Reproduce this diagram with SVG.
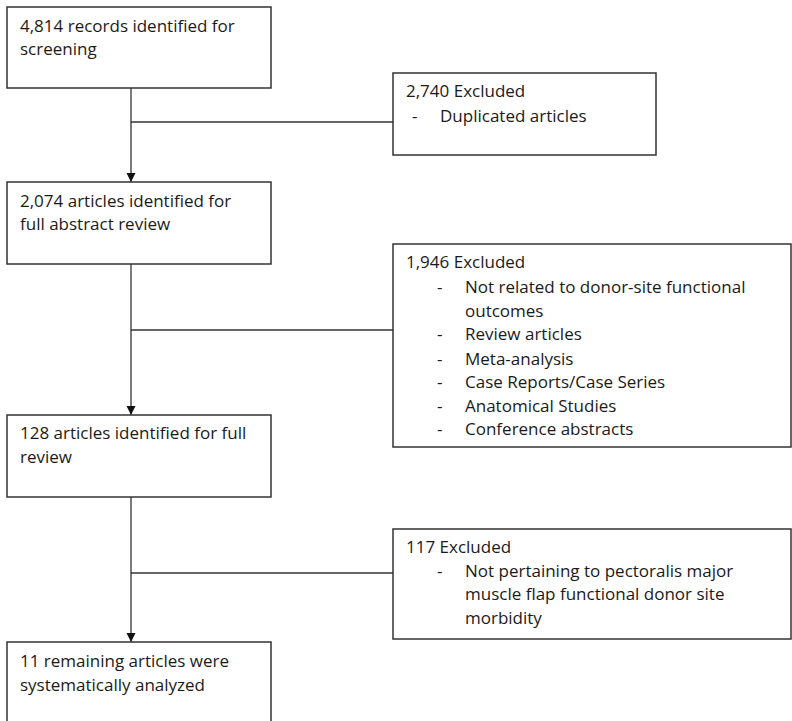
<svg xmlns="http://www.w3.org/2000/svg" width="792" height="721" viewBox="0 0 792 721">
<style>
.box{fill:#fff;stroke:#333;stroke-width:1.5}
.t{font-family:"Open Sans","Liberation Sans",sans-serif;font-size:17px;fill:#1a1a1a}
.ln{stroke:#333;stroke-width:1.3;fill:none}
</style>
<defs>
<marker id="arr" markerWidth="10" markerHeight="10" refX="9" refY="5" orient="auto" markerUnits="userSpaceOnUse">
<path d="M0,0.5 L9,5 L0,9.5 Z" fill="#111"/>
</marker>
</defs>
<rect width="792" height="721" fill="#fff"/>
<g id="connectors">
<line class="ln" x1="131" y1="88" x2="131" y2="182" marker-end="url(#arr)"/>
<line class="ln" x1="131" y1="122" x2="393" y2="122"/>
<line class="ln" x1="131" y1="264" x2="131" y2="415" marker-end="url(#arr)"/>
<line class="ln" x1="131" y1="330" x2="393" y2="330"/>
<line class="ln" x1="131" y1="497" x2="131" y2="642" marker-end="url(#arr)"/>
<line class="ln" x1="131" y1="573" x2="393" y2="573"/>
</g>
<g id="n1">
<rect class="box" x="7" y="7" width="264" height="81"/>
<text class="t" x="20" y="32">4,814 records identified for</text>
<text class="t" x="20" y="55">screening</text>
</g>
<g id="n2">
<rect class="box" x="393" y="73" width="263" height="82"/>
<text class="t" x="406" y="97">2,740 Excluded</text>
<text class="t" x="412" y="122">-</text>
<text class="t" x="440" y="122">Duplicated articles</text>
</g>
<g id="n3">
<rect class="box" x="7" y="182" width="264" height="82"/>
<text class="t" x="20" y="207">2,074 articles identified for</text>
<text class="t" x="20" y="230">full abstract review</text>
</g>
<g id="n4">
<rect class="box" x="393" y="244" width="398" height="203"/>
<text class="t" x="406" y="268">1,946 Excluded</text>
<text class="t" x="437" y="293">-</text>
<text class="t" x="465" y="293">Not related to donor-site functional</text>
<text class="t" x="465" y="317">outcomes</text>
<text class="t" x="437" y="340">-</text>
<text class="t" x="465" y="340">Review articles</text>
<text class="t" x="437" y="365">-</text>
<text class="t" x="465" y="365">Meta-analysis</text>
<text class="t" x="437" y="388">-</text>
<text class="t" x="465" y="388">Case Reports/Case Series</text>
<text class="t" x="437" y="412">-</text>
<text class="t" x="465" y="412">Anatomical Studies</text>
<text class="t" x="437" y="435">-</text>
<text class="t" x="465" y="435">Conference abstracts</text>
</g>
<g id="n5">
<rect class="box" x="7" y="415" width="264" height="82"/>
<text class="t" x="20" y="439">128 articles identified for full</text>
<text class="t" x="20" y="463">review</text>
</g>
<g id="n6">
<rect class="box" x="393" y="529" width="398" height="110"/>
<text class="t" x="406" y="553">117 Excluded</text>
<text class="t" x="437" y="577">-</text>
<text class="t" x="465" y="577">Not pertaining to pectoralis major</text>
<text class="t" x="465" y="600">muscle flap functional donor site</text>
<text class="t" x="465" y="624">morbidity</text>
</g>
<g id="n7">
<rect class="box" x="7" y="642" width="264" height="90"/>
<text class="t" x="20" y="667">11 remaining articles were</text>
<text class="t" x="20" y="691">systematically analyzed</text>
</g>
</svg>
